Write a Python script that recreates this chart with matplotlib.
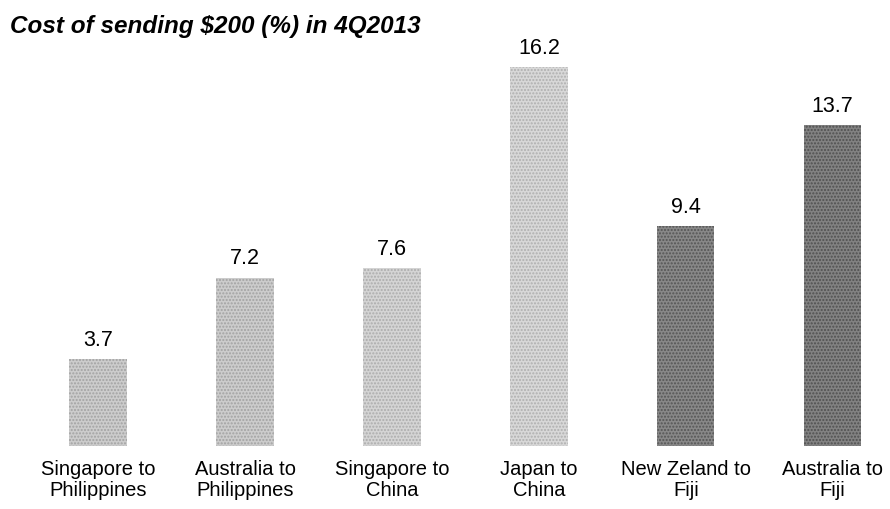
import matplotlib.pyplot as plt

plt.rcParams['font.family'] = ['Liberation Sans', 'DejaVu Sans']

corridors = ['Singapore to\nPhilippines', 'Australia to\nPhilippines', 'Singapore to\nChina',
             'Japan to\nChina', 'New Zeland to\nFiji', 'Australia to\nFiji']
cost = [3.7, 7.2, 7.6, 16.2, 9.4, 13.7]
shades = ['#cccccc', '#cccccc', '#d4d4d4', '#d8d8d8', '#888888', '#828282']
dots = ['#a2a2a2', '#a2a2a2', '#acacac', '#afafaf', '#555555', '#505050']

fig = plt.figure(figsize=(8.9, 5.09), dpi=100)
# axes placed in pixels: baseline at y=446 from top, bar pitch ~147px
ax = fig.add_axes([10 / 890, 63 / 509, 880 / 890, (18 * 23.4) / 509])
xs = list(range(len(cost)))
bars = ax.bar(xs, cost, width=0.39, color=shades, linewidth=0)
for b, c in zip(bars, dots):
    b.set_hatch('.....')
    b.set_edgecolor(c)
    b.set_linewidth(0)

for x, v in zip(xs, cost):
    ax.annotate(f'{v}', (x, v), xytext=(0, 6), textcoords='offset points',
                ha='center', va='bottom', fontsize=15.5)

ax.set_xlim(-0.6, 5.39)
ax.set_ylim(0, 18)
ax.set_xticks(xs)
ax.set_xticklabels(corridors, fontsize=14.5, linespacing=1.15)
ax.tick_params(axis='x', length=0, pad=10)
ax.set_yticks([])
for s in ax.spines.values():
    s.set_visible(False)

fig.text(10 / 890, 1 - 27 / 509, 'Cost of sending $200 (%) in 4Q2013', fontsize=17.5,
         fontweight='bold', fontstyle='italic', va='center', ha='left')

fig.savefig('out.png', dpi=100)
